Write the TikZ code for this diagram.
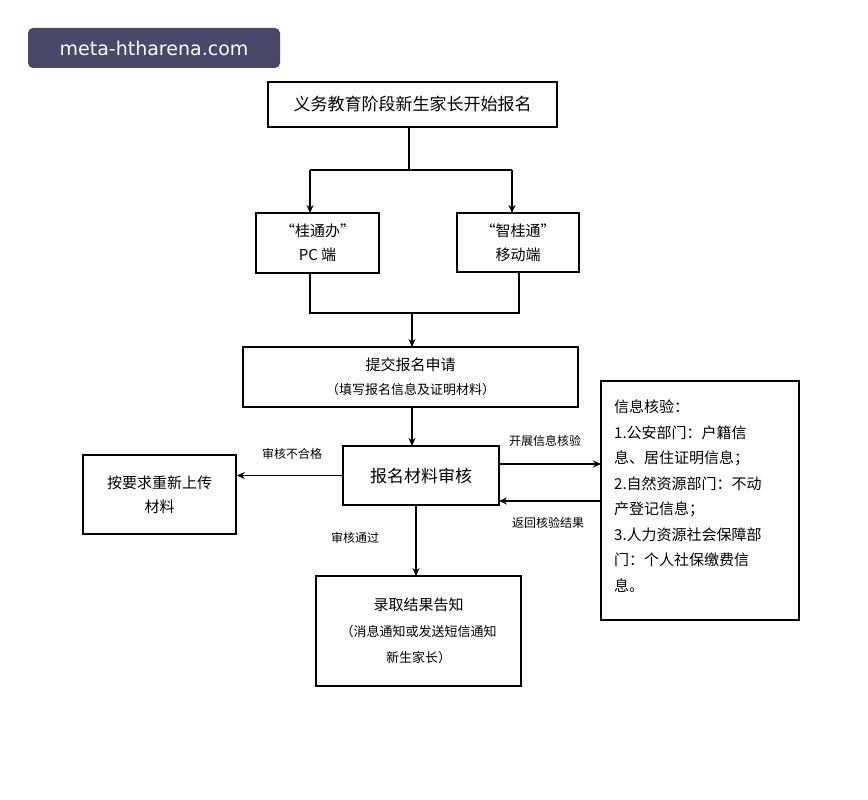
\documentclass[tikz,border=0pt]{standalone}
\usepackage{fontspec}
\setmainfont{Noto Sans CJK SC}
\newfontfamily\wmfont{DejaVu Sans}
\usetikzlibrary{arrows.meta}
\begin{document}
\begin{tikzpicture}[x=1pt,y=-1pt,
 box/.style={draw=black,line width=1.6pt,align=center,font=\fontsize{15}{24}\selectfont},
 ln/.style={line width=1.3pt},
 ar/.style={ln,-{Stealth[length=8pt,width=7pt]}},
 lab/.style={font=\fontsize{12}{14}\selectfont}]
\useasboundingbox[fill=white] (0,0) rectangle (868,800);
\node[box,minimum width=289pt,minimum height=45pt,font=\fontsize{17}{20}\selectfont] (top) at (412.5,104.5) {义务教育阶段新生家长开始报名};
\node[box,minimum width=123pt,minimum height=60pt] (pc) at (317.5,243) {“桂通办”\\PC 端};
\node[box,minimum width=122pt,minimum height=59pt] (mob) at (518,242.5) {“智桂通”\\移动端};
\node[box,minimum width=335pt,minimum height=60pt] (sub) at (410.5,377) {提交报名申请\\{\fontsize{13}{16}\selectfont （填写报名信息及证明材料）}};
\node[box,minimum width=156pt,minimum height=59pt,font=\fontsize{17}{20}\selectfont] (rev) at (421,475.5) {报名材料审核};
\node[box,minimum width=153pt,minimum height=79pt] (re) at (159.5,494.5) {按要求重新上传\\材料};
\node[box,minimum width=205pt,minimum height=110pt,font=\fontsize{15}{26}\selectfont] (res) at (418.5,631) {录取结果告知\\{\fontsize{13}{22}\selectfont （消息通知或发送短信通知}\\{\fontsize{13}{22}\selectfont 新生家长）}};
\node[draw=black,line width=1.6pt,minimum width=198pt,minimum height=239pt] (info) at (700,500.5) {};
\node[anchor=north west,align=left,inner sep=0pt,font=\fontsize{15}{25.5}\selectfont] (infot) at (614,400) {信息核验：\\1.公安部门：户籍信\\息、居住证明信息；\\2.自然资源部门：不动\\产登记信息；\\3.人力资源社会保障部\\门：个人社保缴费信\\息。};
\coordinate (j1) at (409,170);
\draw[ln] (top.south -| j1) -- (j1);
\draw[ar] (310,170) -- (310,213);
\draw[ar] (512,170) -- (512,213);
\draw[ln] (310,170) -- (512,170);
\draw[ln] (310,273) -- (310,313) -- (519,313) -- (519,272);
\draw[ar] (412,313) -- (412,347);
\draw[ar] (412,407) -- (412,446);
\draw[ar] (rev.west) -- (re.east |- rev.west);
\node[lab] at (292,454) {审核不合格};
\draw[ar] (499,464) -- (601,464);
\node[lab] at (545,441) {开展信息核验};
\draw[ar] (601,501) -- (499,501);
\node[lab] at (548,523) {返回核验结果};
\draw[ar] (416,505) -- (416,576);
\node[lab] at (355,538) {审核通过};
\node[fill={rgb,255:red,74;green,72;blue,106},rounded corners=5pt,minimum width=252pt,minimum height=40pt,text=white,font=\fontsize{19}{22}\selectfont\wmfont] (wm) at (154,48) {meta-htharena.com};
\end{tikzpicture}
\end{document}
